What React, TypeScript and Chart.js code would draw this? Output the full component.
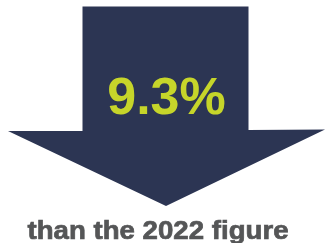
import React, { useEffect, useRef } from "react";
import { Chart, registerables } from "chart.js";

Chart.register(...registerables);

// Value shown on the arrow (percent decrease)
const changeValues = [9.3];
const captionLines = ["than the 2022 figure"];

// Outline of the down-arrow shape, in canvas units
const arrowX = [82.5, 248.5, 248.5, 325, 166, 8, 82.5, 82.5];
const arrowY = [6.5, 6.5, 130, 129.5, 206, 131, 131, 6.5];

const NAVY = "#2c3553";
const LIME = "#c6d52a";
const GREY = "#555657";

const textPlugin = {
  id: "arrowText",
  afterDatasetsDraw(chart: any) {
    const ctx = chart.ctx;
    const xs = chart.scales.x;
    const ys = chart.scales.y;
    ctx.save();
    // big value
    ctx.fillStyle = LIME;
    ctx.font = "bold 52px 'Liberation Sans', Arial, sans-serif";
    ctx.textAlign = "center";
    ctx.textBaseline = "alphabetic";
    ctx.fillText(`${changeValues[0]}%`, xs.getPixelForValue(166.5), ys.getPixelForValue(114));
    // caption
    ctx.fillStyle = GREY;
    ctx.strokeStyle = GREY;
    ctx.lineWidth = 0.7;
    ctx.font = "bold 25.5px 'Liberation Sans', Arial, sans-serif";
    const txt = captionLines[0];
    const w = ctx.measureText(txt).width;
    const target = 261;
    const cx = xs.getPixelForValue(158);
    const cy = ys.getPixelForValue(239);
    ctx.translate(cx, cy);
    ctx.scale(target / w, 1);
    ctx.fillText(txt, 0, 0);
    ctx.strokeText(txt, 0, 0);
    ctx.restore();
  },
};

export default function App() {
  const ref = useRef<HTMLCanvasElement>(null);
  useEffect(() => {
    document.body.style.margin = "0";
    const chart = new Chart(ref.current!, {
      type: "scatter",
      data: {
        datasets: [
          {
            data: arrowX.map((x, i) => ({ x, y: arrowY[i] })),
            showLine: true,
            fill: "shape",
            backgroundColor: NAVY,
            borderColor: NAVY,
            borderWidth: 0,
            pointRadius: 0,
            tension: 0,
          } as any,
        ],
      },
      options: {
        animation: false,
        responsive: false,
        layout: { padding: 0 },
        plugins: { legend: { display: false }, tooltip: { enabled: false } },
        scales: {
          x: { type: "linear", min: 0, max: 325, display: false },
          y: { type: "linear", min: 0, max: 243, reverse: true, display: false },
        },
      },
      plugins: [textPlugin],
    });
    return () => chart.destroy();
  }, []);
  return (
    <div style={{ position: "fixed", left: 0, top: 0, width: 325, height: 243, background: "#fff" }}>
      <canvas ref={ref} width={325} height={243} style={{ width: 325, height: 243 }} />
    </div>
  );
}
